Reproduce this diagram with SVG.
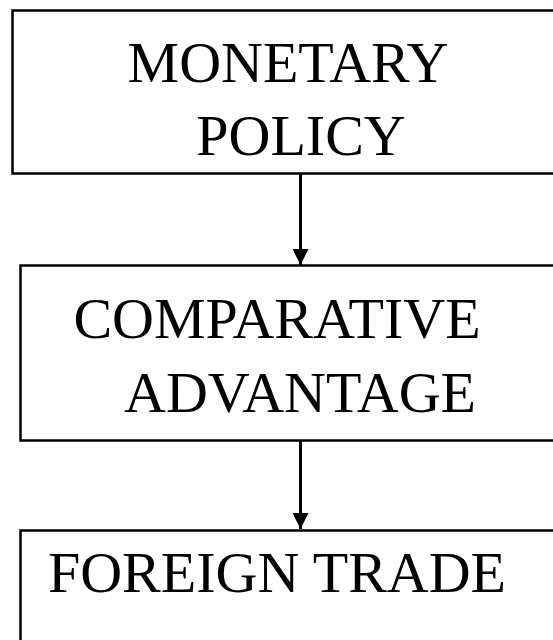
<svg xmlns="http://www.w3.org/2000/svg" width="553" height="640" viewBox="0 0 553 640">
<style>
.box{fill:#fff;stroke:#000;stroke-width:2.5}
.t{font-family:"Liberation Serif","Times New Roman",serif;font-size:58px;fill:#000;text-anchor:middle}
.c{stroke:#000;stroke-width:3;fill:none}
</style>
<defs>
<marker id="ah" viewBox="0 0 16 16" refX="16" refY="8" markerWidth="16" markerHeight="16" markerUnits="userSpaceOnUse" orient="auto">
<path d="M0,0 L16,8 L0,16 Z" fill="#000"/>
</marker>
</defs>
<rect width="553" height="640" fill="#fff"/>
<g id="connectors">
<line class="c" x1="300.5" y1="174" x2="300.5" y2="265" marker-end="url(#ah)"/>
<line class="c" x1="300.5" y1="441" x2="300.5" y2="529" marker-end="url(#ah)"/>
</g>
<g id="node-monetary">
<rect class="box" x="12.5" y="10.5" width="560" height="163"/>
<text class="t" x="288" y="82">MONETARY</text>
<text class="t" x="301" y="155">POLICY</text>
</g>
<g id="node-comparative">
<rect class="box" x="20.5" y="265.5" width="560" height="175"/>
<text class="t" x="277" y="338">COMPARATIVE</text>
<text class="t" x="300" y="412">ADVANTAGE</text>
</g>
<g id="node-foreign">
<rect class="box" x="20.5" y="530.5" width="560" height="130"/>
<text class="t" x="277" y="592">FOREIGN TRADE</text>
</g>
</svg>
